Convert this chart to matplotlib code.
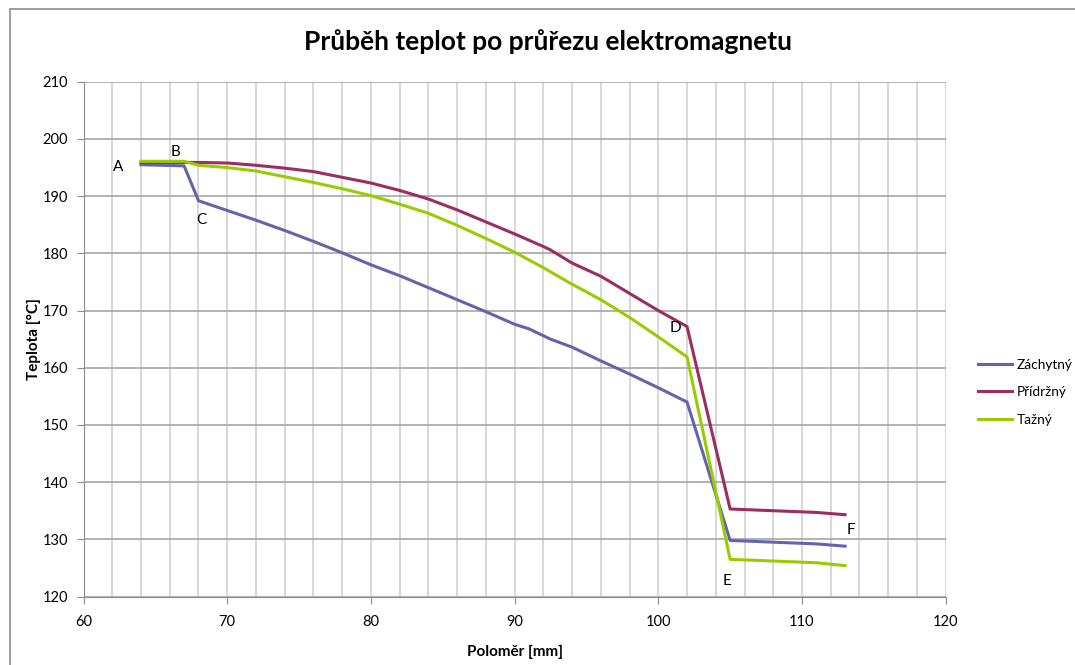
import numpy as np
import matplotlib.pyplot as plt
from matplotlib.patches import Rectangle
from matplotlib.ticker import MultipleLocator

plt.rcParams['font.family'] = ['Lato', 'DejaVu Sans']

# radius [mm] and temperatures [deg C]
r_zach = [64, 67, 68, 70, 72, 74, 76, 78, 80, 82, 84, 86, 88, 90, 91, 92.5,
          94, 96, 98, 100, 102, 105, 111, 113]
t_zach = [195.5, 195.3, 189.2, 187.5, 185.8, 184.0, 182.1, 180.1, 178.0,
          176.1, 174.0, 171.9, 169.8, 167.6, 166.8, 165.0, 163.6, 161.2,
          158.9, 156.5, 154.0, 129.8, 129.2, 128.8]

r_prid = [64, 66, 68, 70, 72, 74, 76, 78, 80, 82, 84, 86, 88, 90, 92, 92.5,
          94, 96, 98, 100, 102, 105, 111, 113]
t_prid = [195.9, 195.9, 195.9, 195.8, 195.4, 194.9, 194.3, 193.3, 192.3,
          191.0, 189.5, 187.6, 185.5, 183.4, 181.2, 180.6, 178.3, 176.0,
          173.0, 170.0, 167.2, 135.3, 134.7, 134.3]

r_tazn = [64, 67, 68, 70, 72, 74, 76, 78, 80, 82, 84, 86, 88, 90, 92, 94,
          96, 98, 100, 102, 105, 111, 113]
t_tazn = [196.1, 196.1, 195.4, 195.0, 194.4, 193.4, 192.4, 191.3, 190.1,
          188.6, 187.0, 184.9, 182.6, 180.2, 177.5, 174.6, 171.9, 168.8,
          165.4, 161.9, 126.5, 125.9, 125.4]

series = ['Záchytný', 'Přídržný', 'Tažný']

# point letters
pt_names = ['A', 'B', 'C', 'D', 'E', 'F']
pt_x = [62.4, 66.4, 68.2, 101.2, 104.8, 113.4]
pt_y = [195.1, 197.7, 185.8, 166.9, 122.7, 131.6]

fig = plt.figure(figsize=(10.75, 6.65), dpi=100)
ax = fig.add_axes([0.0777, 0.103, 0.802, 0.774])

# outer chart border (cropped at right/bottom)
fig.patches.append(Rectangle((10 / 1075, -0.2), 2.0, 1.2 - 8.5 / 665,
                             transform=fig.transFigure, fill=False,
                             edgecolor='#8c8c8c', linewidth=1.2))

ax.plot(r_zach, t_zach, color='#6464a8', lw=2.2, label=series[0])
ax.plot(r_prid, t_prid, color='#9b2d5f', lw=2.2, label=series[1])
ax.plot(r_tazn, t_tazn, color='#99cc00', lw=2.2, label=series[2])

for n, x, y in zip(pt_names, pt_x, pt_y):
    ax.text(x, y, n, fontsize=11, ha='center', va='center')

ax.set_xlim(60, 120)
ax.set_ylim(120, 210)
ax.xaxis.set_major_locator(MultipleLocator(10))
ax.xaxis.set_minor_locator(MultipleLocator(2))
ax.yaxis.set_major_locator(MultipleLocator(10))
ax.grid(axis='x', which='both', color='#d4d4d4', lw=1.3)
ax.grid(axis='y', which='major', color='#a6a6a6', lw=1.2)
ax.set_axisbelow(True)
for s in ['top', 'right']:
    ax.spines[s].set_visible(False)
for s in ['left', 'bottom']:
    ax.spines[s].set_color('#8c8c8c')
ax.tick_params(which='major', direction='out', length=5, color='#8c8c8c',
               labelsize=10.5, pad=6)
ax.tick_params(axis='x', pad=8)
ax.tick_params(which='minor', length=0)

ax.set_xlabel('Poloměr [mm]', fontsize=11, fontweight='bold', labelpad=12)
ax.set_ylabel('Teplota [°C]', fontsize=11, fontweight='bold', labelpad=1)
fig.text(548 / 1075, 1 - 42 / 665, 'Průběh teplot po průřezu elektromagnetu',
         fontsize=19, fontweight='bold', ha='center', va='center')

ax.legend(loc='center left', bbox_to_anchor=(1.038, 0.397), frameon=False,
          fontsize=9.8, handlelength=2.5, labelspacing=1.15, handletextpad=0.3,
          borderaxespad=0, borderpad=0)

plt.savefig('out.png', dpi=100)
